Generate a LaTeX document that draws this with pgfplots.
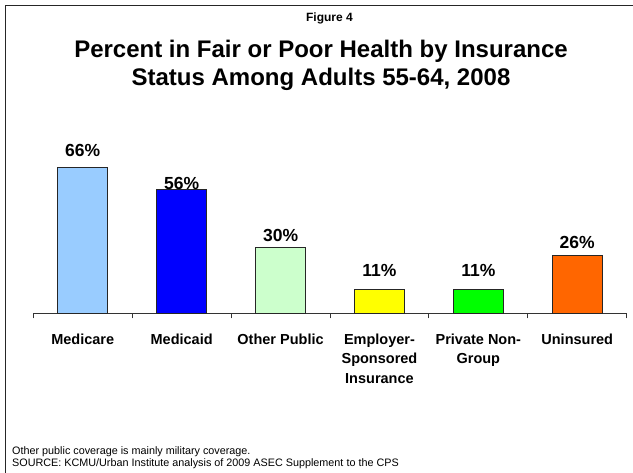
\documentclass[border=0pt]{standalone}
\usepackage{pgfplots}
\pgfplotsset{compat=1.18}
\usepackage{fontspec}
\setmainfont{Liberation Sans}
\definecolor{cMedicare}{HTML}{99CCFF}
\definecolor{cMedicaid}{HTML}{0000FF}
\definecolor{cOther}{HTML}{CCFFCC}
\definecolor{cEmp}{HTML}{FFFF00}
\definecolor{cPriv}{HTML}{00FF00}
\definecolor{cUnins}{HTML}{FF6600}
\begin{document}
\begin{tikzpicture}
\path[use as bounding box] (0,0) rectangle (633bp,-473bp);
% frame
\draw[line width=1.6bp, black!85] (633bp,-5.5bp) -- (5.5bp,-5.5bp) -- (5.5bp,-473bp);
% headings
\node[anchor=base, font=\fontsize{12bp}{14bp}\selectfont\bfseries] at (329.5bp,-21.5bp) {Figure 4};
\node[anchor=base, font=\fontsize{24bp}{28bp}\selectfont\bfseries] at (321bp,-57bp) {Percent in Fair or Poor Health by Insurance};
\node[anchor=base, font=\fontsize{24bp}{28bp}\selectfont\bfseries] at (321bp,-85bp) {Status Among Adults 55-64, 2008};
% footnotes
\node[anchor=base west, inner sep=0pt, font=\fontsize{10.8bp}{12bp}\selectfont] at (12bp,-454bp) {Other public coverage is mainly military coverage.};
\node[anchor=base west, inner sep=0pt, font=\fontsize{10.8bp}{12bp}\selectfont] at (12bp,-466bp) {SOURCE: KCMU/Urban Institute analysis of 2009 ASEC Supplement to the CPS};
\begin{axis}[
  at={(33.3bp,-313.3bp)}, anchor=south west,
  width=593.4bp, height=154.84bp, scale only axis,
  xmin=-0.5, xmax=5.5, ymin=0, ymax=70,
  axis y line=none, axis x line*=bottom,
  x axis line style={line width=0.9bp, black!80, -},
  xtick={0,1,2,3,4,5},
  xticklabels={Medicare, Medicaid, Other Public, {Employer-\\Sponsored\\Insurance}, {Private Non-\\Group}, Uninsured},
  major tick length=0pt,
  extra x ticks={-0.5,0.5,1.5,2.5,3.5,4.5,5.5},
  extra x tick labels={},
  extra x tick style={major tick length=5bp, tick align=outside, tick style={line width=0.9bp, black!80}},
  xticklabel style={align=center, anchor=north, inner sep=0pt, yshift=-20bp,
     font=\fontsize{14.5bp}{19.5bp}\selectfont\bfseries},
  /pgf/number format/assume math mode=true,
  ybar, bar width=0.505, bar shift=0pt,
  nodes near coords={\pgfmathprintnumber{\pgfplotspointmeta}\%},
  every node near coord/.append style={anchor=base, inner sep=0pt, font=\fontsize{17.5bp}{20bp}\selectfont\bfseries, text=black},
  clip=false,
]
\addplot[fill=cMedicare, draw=black!85, line width=0.8bp, every node near coord/.append style={yshift=10.6bp}] coordinates {(0,66)};
\addplot[fill=cMedicaid, draw=black!85, line width=0.8bp, every node near coord/.append style={yshift=0bp}] coordinates {(1,56)};
\addplot[fill=cOther, draw=black!85, line width=0.8bp, every node near coord/.append style={yshift=5.6bp}] coordinates {(2,30)};
\addplot[fill=cEmp, draw=black!85, line width=0.8bp, every node near coord/.append style={yshift=12.7bp}] coordinates {(3,11)};
\addplot[fill=cPriv, draw=black!85, line width=0.8bp, every node near coord/.append style={yshift=12.7bp}] coordinates {(4,11)};
\addplot[fill=cUnins, draw=black!85, line width=0.8bp, every node near coord/.append style={yshift=7bp}] coordinates {(5,26)};
\end{axis}
\end{tikzpicture}
\end{document}
